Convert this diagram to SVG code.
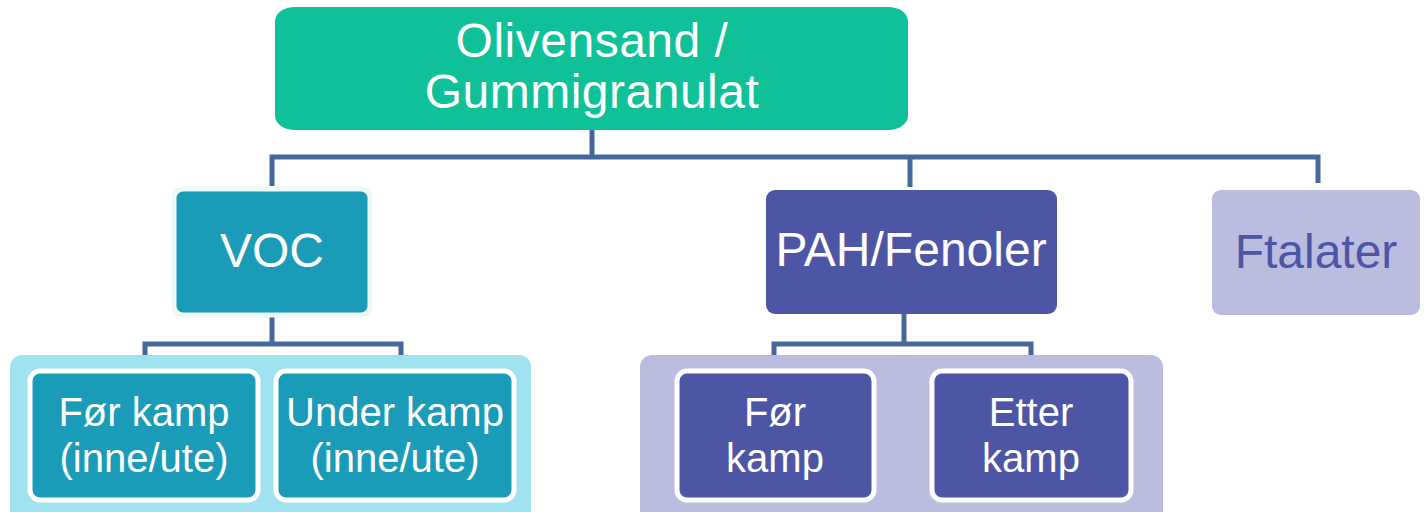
<svg xmlns="http://www.w3.org/2000/svg" width="1424" height="512" viewBox="0 0 1424 512">
<style>
text{font-family:"Liberation Sans",Arial,sans-serif;text-anchor:middle;fill:#ffffff}
.big{font-size:48px}
.small{font-size:40px}
.conn{fill:none;stroke:#44689C;stroke-width:5}
.child{stroke:#ffffff;stroke-width:5}
</style>
<rect width="1424" height="512" fill="#ffffff"/>
<g id="connectors">
<path class="conn" d="M592 130V157M272 186V157H1318V183M910 157V187"/>
<path class="conn" d="M272 314V344M145 370V344H401V370"/>
<path class="conn" d="M904 314V344M774 370V344H1031V370"/>
</g>
<g id="group-voc-bg"><rect x="10" y="355" width="521" height="170" rx="12" fill="#A0E2F0"/></g>
<g id="group-pah-bg"><rect x="640" y="355" width="523" height="170" rx="12" fill="#BBBDE0"/></g>
<g id="root">
<rect x="275" y="7" width="633" height="123" rx="20" ry="14" fill="#0EC199"/>
<text class="big" x="592" y="57" letter-spacing="0.5">Olivensand /</text>
<text class="big" x="592" y="108" letter-spacing="0.5">Gummigranulat</text>
</g>
<g id="voc">
<rect x="174" y="189" width="196" height="126" rx="9" fill="#1A9BB8" stroke="#EEF8F6" stroke-width="5"/>
<text class="big" x="272" y="267">VOC</text>
</g>
<g id="pah">
<rect x="766" y="190" width="291" height="124" rx="9" fill="#4D55A5"/>
<text class="big" x="911" y="266">PAH/Fenoler</text>
</g>
<g id="ftalater">
<rect x="1212" y="190" width="208" height="125" rx="9" fill="#BBBDE0"/>
<text class="big" x="1316" y="268" style="fill:#4D55A5">Ftalater</text>
</g>
<g id="voc-before">
<rect class="child" x="30" y="371" width="228" height="129" rx="10" fill="#1A9BB8"/>
<text class="small" x="144" y="426">Før kamp</text>
<text class="small" x="144" y="472">(inne/ute)</text>
</g>
<g id="voc-during">
<rect class="child" x="276" y="371" width="238" height="129" rx="10" fill="#1A9BB8"/>
<text class="small" x="395" y="426">Under kamp</text>
<text class="small" x="395" y="472">(inne/ute)</text>
</g>
<g id="pah-before">
<rect class="child" x="677" y="371" width="197" height="129" rx="10" fill="#4D55A5"/>
<text class="small" x="775" y="426">Før</text>
<text class="small" x="775" y="472">kamp</text>
</g>
<g id="pah-after">
<rect class="child" x="932" y="371" width="199" height="129" rx="10" fill="#4D55A5"/>
<text class="small" x="1031" y="426">Etter</text>
<text class="small" x="1031" y="472">kamp</text>
</g>
</svg>
